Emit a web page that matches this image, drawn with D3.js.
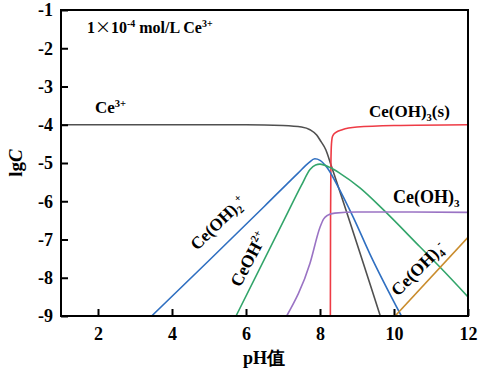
<!DOCTYPE html>
<html><head><meta charset="utf-8">
<script src="https://cdn.jsdelivr.net/npm/d3@7"></script>
<style>
html,body{margin:0;padding:0;background:#fff;}
text{font-family:"Liberation Serif","Times New Roman",serif;font-weight:bold;fill:#000;}
</style></head>
<body><svg id="c" width="479" height="372"></svg>
<script>
// Data (pH, lgC)
const ce3 = [[1,-4.0],[6,-4.0],[7,-4.02],[7.5,-4.06],[7.73,-4.13],[7.91,-4.27],[8.0,-4.4],[8.16,-4.66],[8.3,-5.06],[9.63,-9.0]];
const ceOH2 = [[3.45,-9.0],[5.0,-7.55],[6.5,-6.13],[7.4,-5.27],[7.7,-4.99],[7.86,-4.89],[8.0,-4.93],[8.2,-5.13],[8.45,-5.55],[8.9,-6.42],[9.35,-7.38],[10.2,-9.0]];
const ceOH_2 = [[5.73,-9.0],[7.05,-6.45],[7.5,-5.58],[7.73,-5.17],[7.88,-5.05],[8.0,-5.03],[8.27,-5.12],[8.54,-5.27],[9.08,-5.65],[9.71,-6.22],[10.7,-7.19],[11.24,-7.72],[12,-8.5]];
const ceOH3aq = [[7.1,-9.0],[7.73,-7.62],[8.0,-6.68],[8.1,-6.46],[8.2,-6.37],[8.4,-6.31],[9.0,-6.28],[10,-6.28],[12,-6.29]];
const ceOH3s = [[8.28,-9.0],[8.285,-6.5],[8.295,-5.0],[8.31,-4.5],[8.34,-4.3],[8.43,-4.2],[8.6,-4.13],[9.0,-4.06],[10,-4.02],[12,-4.0]];
const ceOH4 = [[10.03,-9.0],[12,-6.94]];
const xTicks = [2,4,6,8,10,12];
const yTicks = [-1,-2,-3,-4,-5,-6,-7,-8,-9];

const series = [
  {data: ce3, color:"#505050"},
  {data: ceOH3s, color:"#ee3b45"},
  {data: ceOH2, color:"#2f6fc1"},
  {data: ceOH_2, color:"#33a56b"},
  {data: ceOH3aq, color:"#9a73c4"},
  {data: ceOH4, color:"#c98c2c"}
];

const L=61, R=468, T=10, B=316;
const x = d3.scaleLinear().domain([1,12]).range([L,R]);
const y = d3.scaleLinear().domain([-9,-1]).range([B,T]);
const svg = d3.select("#c");

svg.append("defs").append("clipPath").attr("id","clip")
  .append("rect").attr("x",L).attr("y",T).attr("width",R-L).attr("height",B-T);

const line = d3.line().x(d=>x(d[0])).y(d=>y(d[1])).curve(d3.curveMonotoneX);
const g = svg.append("g").attr("clip-path","url(#clip)");
series.forEach(s=>{
  g.append("path").attr("d",line(s.data)).attr("fill","none")
   .attr("stroke",s.color).attr("stroke-width",1.6);
});

// axes
const xAxis = d3.axisBottom(x).tickValues(xTicks).tickSize(-7).tickPadding(11).tickFormat(d3.format("d"));
const yAxis = d3.axisLeft(y).tickValues(yTicks).tickSize(-7).tickPadding(8).tickFormat(d=>String(d).replace("−","-"));
const gx = svg.append("g").attr("transform",`translate(0,${B})`).call(xAxis);
const gy = svg.append("g").attr("transform",`translate(${L},0)`).call(yAxis);
[gx,gy].forEach(a=>{
  a.select(".domain").remove();
  a.selectAll(".tick line").attr("stroke","#000").attr("stroke-width",2);
  a.selectAll(".tick text").attr("font-size",18).attr("font-family","Liberation Serif").attr("font-weight","bold").attr("fill","#000");
});
svg.append("rect").attr("x",L).attr("y",T).attr("width",R-L).attr("height",B-T)
  .attr("fill","none").attr("stroke","#000").attr("stroke-width",2);

// axis titles
svg.append("text").attr("x",264).attr("y",364).attr("text-anchor","middle").attr("font-size",18)
  .text("pH值");
const yl = svg.append("text").attr("transform","translate(22,163) rotate(-90)").attr("text-anchor","middle").attr("font-size",19);
yl.append("tspan").text("lg");
yl.append("tspan").attr("font-style","italic").text("C");

// labels
function label(parts, xx, yy, size, rot){
  const t = svg.append("text").attr("font-size",size)
    .attr("transform",`translate(${xx},${yy}) rotate(${rot||0})`);
  parts.forEach(p=>{
    const ts = t.append("tspan").text(p[0]);
    if(p[1]==="sup"){ ts.attr("font-size",size*0.62).attr("dy",-size*0.38); }
    else if(p[1]==="sub"){ ts.attr("font-size",size*0.62).attr("dy",size*0.22); }
    else if(p[1]==="cjk"){ ts.attr("font-family","Noto Sans CJK SC").attr("font-weight","normal"); }
    if(p[2]!==undefined) ts.attr("dy", p[2]);
  });
  return t;
}
// title annotation
label([["1"],["×","cjk"],["10"],["-4","sup"],[" mol/L Ce",null,16*0.38],["3+","sup"]], 87, 33, 16, 0);
label([["Ce"],["3+","sup"]], 95, 113, 17, 0);
label([["Ce(OH)"],["3","sub"],["(s)",null,-17*0.22]], 369, 117, 17, 0);
label([["Ce(OH)"],["3","sub"]], 393, 203, 18, 0);
label([["Ce(OH)"],["2","sub"],["+","sup",-10]], 197, 251, 17, -44);
label([["CeOH"],["2+","sup"]], 240, 288, 17.5, -62);
label([["Ce(OH)"],["4","sub"],["-","sup",-10]], 398, 297, 17.5, -45);
</script></body></html>
